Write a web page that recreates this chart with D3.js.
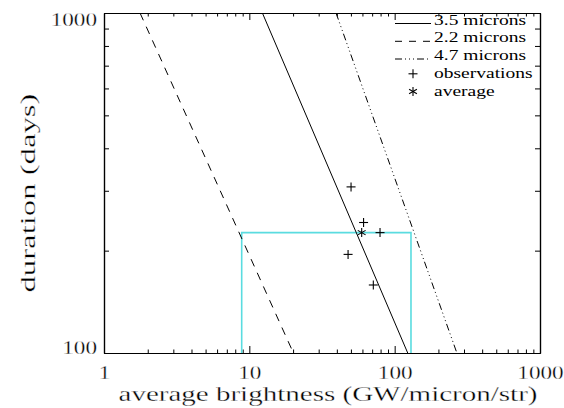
<!DOCTYPE html>
<html>
<head>
<meta charset="utf-8">
<script src="https://cdn.jsdelivr.net/npm/d3@7"></script>
<style>
  html, body { margin: 0; padding: 0; background: #ffffff; }
  svg { display: block; }
  text { font-family: "Liberation Serif", "DejaVu Serif", serif; fill: #000; }
  text.thin { stroke: #fff; stroke-width: 0.3px; }
</style>
</head>
<body>
<svg id="chart" width="564" height="408"></svg>
<script>
// ---- data ----
const seriesNames = ["3.5 microns", "2.2 microns", "4.7 microns"];
const lineDurations = [1000, 100];                 // duration at the two ends of each line
const brightnessAtTop = [12.3, 1.77, 39.5];        // brightness where duration = 1000
const brightnessAtBottom = [123, 20.1, 268];       // brightness where duration = 100
const obsBrightness = [50.1, 61.1, 79.3, 47.8, 71.3];
const obsDuration = [308, 242, 226, 195, 158.5];
const avgBrightness = [59.3];
const avgDuration = [226];
const boxBrightness = [8.86, 129.5];
const boxDuration = [226];
const xTickValues = [1, 10, 100, 1000];
const yTickValues = [100, 1000];
const xMinorValues = [2,3,4,5,6,7,8,9,20,30,40,50,60,70,80,90,200,300,400,500,600,700,800,900];
const yMinorValues = [200,300,400,500,600,700,800,900];
const legendLabels = ["3.5 microns", "2.2 microns", "4.7 microns", "observations", "average"];
const xTitle = "average brightness (GW/micron/str)";
const yTitle = "duration (days)";

// ---- layout ----
const FONT = "Liberation Serif, DejaVu Serif, serif";
const L = 104, R = 540, T = 13, B = 353;
const svg = d3.select("#chart");
svg.append("rect").attr("width", 564).attr("height", 408).attr("fill", "#fff");

const x = d3.scaleLog().domain([1, 1000]).range([L, R]);
const y = d3.scaleLog().domain([100, 1000]).range([B, T]);

const fmt = d => String(d);

function stretch(sel, factor) {
  sel.each(function () {
    const w = this.getComputedTextLength();
    d3.select(this).attr("textLength", w * factor).attr("lengthAdjust", "spacingAndGlyphs");
  });
}

function styleAxis(g) {
  g.selectAll("path.domain").attr("stroke", "#000").attr("stroke-width", 1.2);
  g.selectAll("line").attr("stroke", "#000").attr("stroke-width", 1);
  g.selectAll("text").attr("font-size", "19px").attr("font-family", FONT).attr("fill", "#000").attr("class", "thin");
}

// bottom axis
const gB = svg.append("g").attr("transform", `translate(0,${B})`)
  .call(d3.axisBottom(x).tickValues(xTickValues).tickFormat(fmt).tickSizeInner(-7).tickSizeOuter(0).tickPadding(13));
styleAxis(gB);
stretch(gB.selectAll(".tick text"), 1.22);
const gBm = svg.append("g").attr("transform", `translate(0,${B})`)
  .call(d3.axisBottom(x).tickValues(xMinorValues).tickFormat("").tickSizeInner(-3.5).tickSizeOuter(0));
styleAxis(gBm);
// top axis
const gT = svg.append("g").attr("transform", `translate(0,${T})`)
  .call(d3.axisTop(x).tickValues(xTickValues).tickFormat("").tickSizeInner(-7).tickSizeOuter(0));
styleAxis(gT);
const gTm = svg.append("g").attr("transform", `translate(0,${T})`)
  .call(d3.axisTop(x).tickValues(xMinorValues).tickFormat("").tickSizeInner(-3.5).tickSizeOuter(0));
styleAxis(gTm);
// left axis
const gL = svg.append("g").attr("transform", `translate(${L},0)`)
  .call(d3.axisLeft(y).tickValues(yTickValues).tickFormat(fmt).tickSizeInner(-9).tickSizeOuter(0).tickPadding(7));
styleAxis(gL);
gL.selectAll(".tick text").attr("dy", d => d === 1000 ? "0.68em" : "0em");
stretch(gL.selectAll(".tick text"), 1.22);
const gLm = svg.append("g").attr("transform", `translate(${L},0)`)
  .call(d3.axisLeft(y).tickValues(yMinorValues).tickFormat("").tickSizeInner(-5).tickSizeOuter(0));
styleAxis(gLm);
// right axis
const gR = svg.append("g").attr("transform", `translate(${R},0)`)
  .call(d3.axisRight(y).tickValues(yTickValues).tickFormat("").tickSizeInner(-9).tickSizeOuter(0));
styleAxis(gR);
const gRm = svg.append("g").attr("transform", `translate(${R},0)`)
  .call(d3.axisRight(y).tickValues(yMinorValues).tickFormat("").tickSizeInner(-5).tickSizeOuter(0));
styleAxis(gRm);

// titles
svg.append("text").attr("class", "thin").attr("x", 328).attr("y", 401).attr("text-anchor", "middle").attr("font-family", FONT)
  .attr("font-size", "21px").attr("textLength", 419).attr("lengthAdjust", "spacingAndGlyphs").text(xTitle);
svg.append("text").attr("class", "thin").attr("transform", "translate(35,193) rotate(-90)").attr("text-anchor", "middle").attr("font-family", FONT)
  .attr("font-size", "22px").attr("textLength", 199).attr("lengthAdjust", "spacingAndGlyphs").text(yTitle);

// cyan box
const boxPts = [[boxBrightness[0], 100], [boxBrightness[0], boxDuration[0]], [boxBrightness[1], boxDuration[0]], [boxBrightness[1], 100]];
svg.append("path")
  .attr("d", d3.line().x(d => x(d[0])).y(d => y(d[1]))(boxPts))
  .attr("fill", "none").attr("stroke", "#5adce0").attr("stroke-width", 1.6);

// model lines
const dashes = [null, "8,7", "7,3,1,3,1,3,1,3"];
svg.append("clipPath").attr("id", "plotclip")
  .append("rect").attr("x", L).attr("y", T).attr("width", R - L).attr("height", B - T);
seriesNames.forEach((name, i) => {
  const pts = [[brightnessAtTop[i], lineDurations[0]], [brightnessAtBottom[i], lineDurations[1]]];
  svg.append("path")
    .attr("d", d3.line().x(d => x(d[0])).y(d => y(d[1]))(pts))
    .attr("fill", "none").attr("stroke", "#000").attr("stroke-width", 1)
    .attr("stroke-dasharray", dashes[i])
    .attr("clip-path", "url(#plotclip)");
});

// markers
function plus(g, cx, cy, r) {
  g.append("line").attr("x1", cx - r).attr("x2", cx + r).attr("y1", cy).attr("y2", cy).attr("stroke", "#000").attr("stroke-width", 1.1);
  g.append("line").attr("x1", cx).attr("x2", cx).attr("y1", cy - r).attr("y2", cy + r).attr("stroke", "#000").attr("stroke-width", 1.1);
}
function star(g, cx, cy, r) {
  g.append("line").attr("x1", cx).attr("x2", cx).attr("y1", cy - r).attr("y2", cy + r).attr("stroke", "#000").attr("stroke-width", 1.1);
  const a = r * 0.87, b = r * 0.5;
  g.append("line").attr("x1", cx - a).attr("x2", cx + a).attr("y1", cy - b).attr("y2", cy + b).attr("stroke", "#000").attr("stroke-width", 1.1);
  g.append("line").attr("x1", cx - a).attr("x2", cx + a).attr("y1", cy + b).attr("y2", cy - b).attr("stroke", "#000").attr("stroke-width", 1.1);
}
const gM = svg.append("g");
obsBrightness.forEach((b, i) => plus(gM, x(b), y(obsDuration[i]), 4.5));
avgBrightness.forEach((b, i) => star(gM, x(b), y(avgDuration[i]), 4.5));

// legend
const legX0 = 395, legX1 = 431, legText = 434;
const legBase = [24.5, 42.3, 60, 77.8, 95.5];
const gLeg = svg.append("g");
legendLabels.forEach((lab, i) => {
  const by = legBase[i];
  const cy = by - 4;
  if (i < 3) {
    gLeg.append("line").attr("x1", legX0).attr("x2", legX1).attr("y1", by - 1).attr("y2", by - 1)
      .attr("stroke", "#000").attr("stroke-width", 1).attr("stroke-dasharray", i === 1 ? "7,7" : dashes[i]);
  } else if (i === 3) {
    plus(gLeg, 413, cy, 4.5);
  } else {
    star(gLeg, 413, cy, 4.5);
  }
  const t = gLeg.append("text").attr("x", legText).attr("y", by).attr("font-family", FONT)
    .attr("font-size", "15px").text(lab);
  stretch(t, 1.3);
});
</script>
</body>
</html>
